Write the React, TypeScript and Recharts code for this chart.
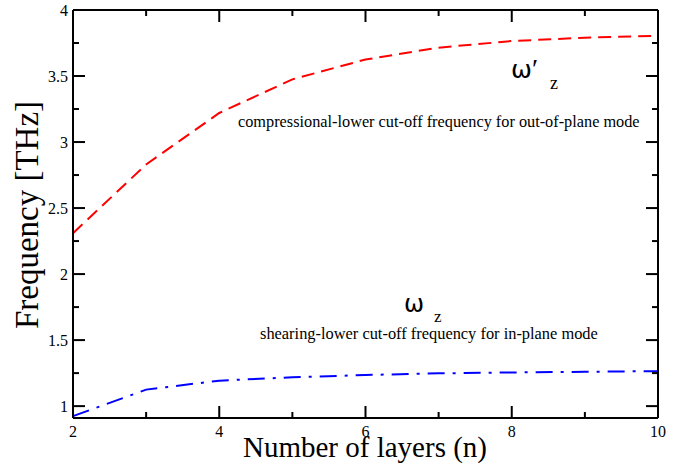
import { LineChart, Line, XAxis, YAxis } from 'recharts'

const FONT = '"Liberation Serif", "Times New Roman", serif'
const GREEK = '"DejaVu Sans", "Liberation Serif", serif'

// number of layers n
const layers = [2, 3, 4, 5, 6, 7, 8, 9, 10]
// compressional-lower cut-off (out-of-plane), THz
const compressional = [2.31, 2.83, 3.22, 3.475, 3.625, 3.715, 3.765, 3.79, 3.805]
// shearing-lower cut-off (in-plane), THz
const shearing = [0.924, 1.125, 1.193, 1.218, 1.236, 1.248, 1.255, 1.26, 1.265]

const xTicks = [2, 3, 4, 5, 6, 7, 8, 9, 10]
const yTicks = [1, 1.25, 1.5, 1.75, 2, 2.25, 2.5, 2.75, 3, 3.25, 3.5, 3.75, 4]
const yLabels = ['1', '1.5', '2', '2.5', '3', '3.5', '4']

const data = layers.map((n, i) => ({ n, wc: compressional[i], ws: shearing[i] }))

function XTick({ x, y, payload, side }: any) {
  const major = payload.value % 2 === 0
  const len = major ? 12 : 6
  const dir = side === 'top' ? 1 : -1
  return (
    <g>
      <line x1={x} x2={x} y1={y} y2={y + dir * len} stroke="#000" strokeWidth={2} />
      {side === 'bottom' && major && (
        <text x={x} y={y + 19} textAnchor="middle" fontFamily="Liberation Serif" fontSize={16} fill="#000">
          {payload.value}
        </text>
      )}
    </g>
  )
}

function YTick({ x, y, payload, side }: any) {
  const label = String(payload.value)
  const major = yLabels.includes(label)
  const len = major ? 12 : 6
  const dir = side === 'left' ? 1 : -1
  return (
    <g>
      <line x1={x} x2={x + dir * len} y1={y} y2={y} stroke="#000" strokeWidth={2} />
      {side === 'left' && major && (
        <text x={x - 5} y={y + 6} textAnchor="end" fontFamily="Liberation Serif" fontSize={16} fill="#000">
          {label}
        </text>
      )}
    </g>
  )
}

const axisLine = { stroke: '#000', strokeWidth: 2 }

export default function App() {
  return (
    <div style={{ position: 'absolute', left: 0, top: 0, width: 689, height: 474, background: '#fff' }}>
      <LineChart width={689} height={474} data={data} margin={{ top: 0, right: 0, bottom: 0, left: 0 }}>
        <XAxis
          xAxisId="bottom"
          dataKey="n"
          type="number"
          domain={[2, 10]}
          ticks={xTicks}
          height={56}
          tickSize={0}
          tickMargin={0}
          axisLine={axisLine}
          tickLine={false}
          tick={(p: any) => <XTick {...p} side="bottom" />}
        />
        <XAxis
          xAxisId="top"
          orientation="top"
          dataKey="n"
          type="number"
          domain={[2, 10]}
          ticks={xTicks}
          height={10}
          tickSize={0}
          tickMargin={0}
          axisLine={axisLine}
          tickLine={false}
          tick={(p: any) => <XTick {...p} side="top" />}
        />
        <YAxis
          yAxisId="left"
          type="number"
          domain={[0.91, 4]}
          allowDataOverflow
          ticks={yTicks}
          width={73}
          tickSize={0}
          tickMargin={0}
          axisLine={axisLine}
          tickLine={false}
          tick={(p: any) => <YTick {...p} side="left" />}
        />
        <YAxis
          yAxisId="right"
          orientation="right"
          type="number"
          domain={[0.91, 4]}
          allowDataOverflow
          ticks={yTicks}
          width={31}
          tickSize={0}
          tickMargin={0}
          axisLine={axisLine}
          tickLine={false}
          tick={(p: any) => <YTick {...p} side="right" />}
        />
        <Line
          xAxisId="bottom"
          yAxisId="left"
          dataKey="wc"
          stroke="#ff0000"
          strokeWidth={2}
          strokeDasharray="13 7"
          dot={false}
          isAnimationActive={false}
        />
        <Line
          xAxisId="bottom"
          yAxisId="left"
          dataKey="ws"
          stroke="#0000ff"
          strokeWidth={2}
          strokeDasharray="17 8 3 8"
          dot={false}
          isAnimationActive={false}
        />
        <Line
          xAxisId="top"
          yAxisId="right"
          dataKey="wc"
          stroke="none"
          dot={false}
          legendType="none"
          isAnimationActive={false}
        />
      </LineChart>
      <svg
        width={689}
        height={474}
        style={{ position: 'absolute', left: 0, top: 0, pointerEvents: 'none', fontFamily: FONT }}
      >
        <text x={365} y={457} textAnchor="middle" fontSize={29}>
          Number of layers (n)
        </text>
        <text x={38} y={215} textAnchor="middle" fontSize={33} transform="rotate(-90 38 215)">
          Frequency [THz]
        </text>
        <text x={511} y={78} fontSize={25}>
          <tspan style={{ fontFamily: GREEK }}>ω</tspan>
          <tspan fontSize={28}>′</tspan>
        </text>
        <text x={550} y={89} fontSize={18}>z</text>
        <text x={238} y={127} fontSize={16.3}>
          compressional-lower cut-off frequency for out-of-plane mode
        </text>
        <text x={404} y={312} fontSize={24} style={{ fontFamily: GREEK }}>ω</text>
        <text x={434} y={322} fontSize={17}>z</text>
        <text x={260} y={339} fontSize={16.4}>
          shearing-lower cut-off frequency for in-plane mode
        </text>
      </svg>
    </div>
  )
}
